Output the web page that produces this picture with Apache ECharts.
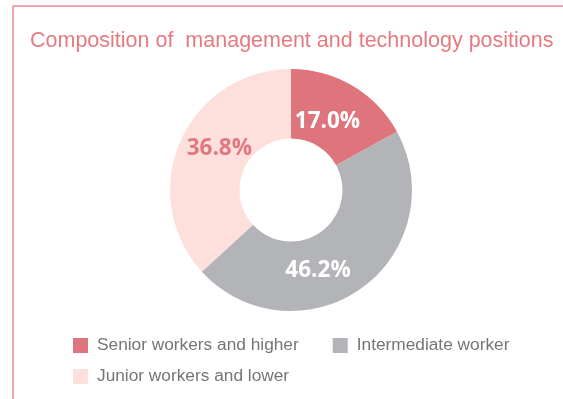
<!DOCTYPE html>
<html><head><meta charset="utf-8">
<script src="https://cdn.jsdelivr.net/npm/echarts@6/dist/echarts.min.js"></script>
<style>html,body{margin:0;padding:0;background:#fff}#c{width:563px;height:399px}</style>
</head><body><div id="c"></div>
<script>
const titleText = 'Composition of  management and technology positions';
const categories = ['Senior workers and higher', 'Intermediate worker', 'Junior workers and lower'];
const values = [17.0, 46.2, 36.8];
const colors = ['#de747c', '#b3b4b7', '#fde0dc'];
const labelColors = ['#ffffff', '#ffffff', '#e07880'];
const labelOffsets = [[-9, 8], [-25, 8], [10, -5]];

const chart = echarts.init(document.getElementById('c'), null, {renderer: 'canvas'});
const data = categories.map((n, i) => ({
  name: n, value: values[i],
  itemStyle: {color: colors[i]},
  label: {color: labelColors[i], offset: labelOffsets[i]}
}));
const legendText = {color: '#757575', fontSize: 17.3, fontFamily: 'Liberation Sans', padding: [0, 0, 0, 4]};
chart.setOption({
  animation: false,
  title: {
    text: titleText, left: 25, top: 25,
    textStyle: {color: '#e57a80', fontSize: 21.5, fontWeight: 'normal', fontFamily: 'Liberation Sans'}
  },
  graphic: [
    {type: 'line', shape: {x1: 13, y1: 6, x2: 563, y2: 6}, style: {stroke: '#e8888e', lineWidth: 1.5}},
    {type: 'line', shape: {x1: 13, y1: 6, x2: 13, y2: 399}, style: {stroke: '#e8888e', lineWidth: 1.5}}
  ],
  legend: [
    {
      data: categories.slice(0, 2), left: 68, top: 332, itemWidth: 15, itemHeight: 15, itemGap: 34,
      icon: 'rect', selectedMode: false, textStyle: legendText
    },
    {
      data: categories.slice(2), left: 68, top: 363, itemWidth: 15, itemHeight: 15,
      icon: 'rect', selectedMode: false, textStyle: legendText
    }
  ],
  series: [{
    type: 'pie',
    center: [291, 190],
    radius: [51.5, 121],
    startAngle: 90,
    clockwise: true,
    avoidLabelOverlap: false,
    label: {
      show: true, position: 'inside',
      formatter: p => p.value.toFixed(1) + '%',
      fontSize: 22.5, fontWeight: 'bold', fontFamily: 'Open Sans'
    },
    labelLine: {show: false},
    emphasis: {disabled: true},
    data: data
  }]
});
</script></body></html>
